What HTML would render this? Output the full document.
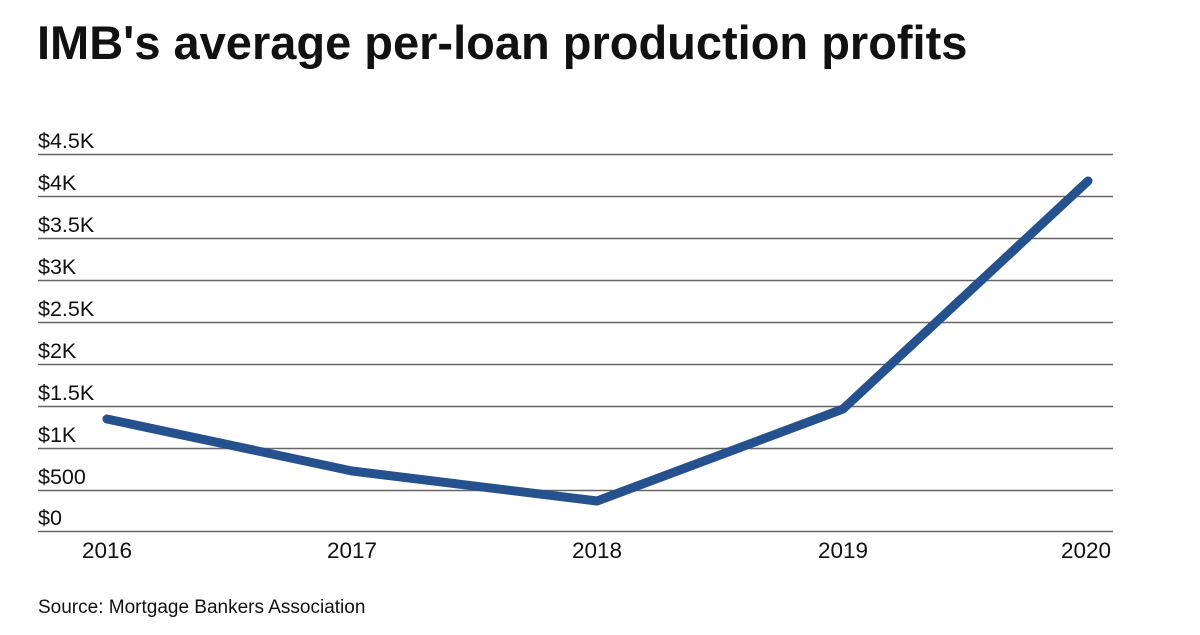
<!DOCTYPE html>
<html><head><meta charset="utf-8"><style>
html,body{margin:0;padding:0;background:#fff;}
body{width:1200px;height:630px;overflow:hidden;}
</style></head><body>
<svg width="1200" height="630" xmlns="http://www.w3.org/2000/svg" font-family="Liberation Sans, sans-serif">
<text x="37" y="59" font-size="47" font-weight="bold" fill="#111">IMB's average per-loan production profits</text>
<g stroke="#666" stroke-width="1.5">
<line x1="38" x2="1113" y1="154.5" y2="154.5"/>
<line x1="38" x2="1113" y1="196.5" y2="196.5"/>
<line x1="38" x2="1113" y1="238.5" y2="238.5"/>
<line x1="38" x2="1113" y1="280.5" y2="280.5"/>
<line x1="38" x2="1113" y1="322.5" y2="322.5"/>
<line x1="38" x2="1113" y1="364.5" y2="364.5"/>
<line x1="38" x2="1113" y1="406.5" y2="406.5"/>
<line x1="38" x2="1113" y1="448.5" y2="448.5"/>
<line x1="38" x2="1113" y1="490.5" y2="490.5"/>
<line x1="38" x2="1113" y1="531.5" y2="531.5"/>
</g>
<g font-size="21.5" fill="#111">
<text x="38" y="148">$4.5K</text>
<text x="38" y="190">$4K</text>
<text x="38" y="232">$3.5K</text>
<text x="38" y="274">$3K</text>
<text x="38" y="316">$2.5K</text>
<text x="38" y="358">$2K</text>
<text x="38" y="400">$1.5K</text>
<text x="38" y="442">$1K</text>
<text x="38" y="484">$500</text>
<text x="38" y="525">$0</text>
</g>
<g font-size="22.5" fill="#111" text-anchor="middle">
<text x="107" y="558">2016</text>
<text x="352" y="558">2017</text>
<text x="597" y="558">2018</text>
<text x="843" y="558">2019</text>
<text x="1086" y="558">2020</text>
</g>
<polyline points="107,419 352,471 597,501 843,409 1088,181" fill="none" stroke="#25528f" stroke-width="9" stroke-linecap="round" stroke-linejoin="round"/>
<text x="38" y="613" font-size="19" fill="#111">Source: Mortgage Bankers Association</text>
</svg>
</body></html>
